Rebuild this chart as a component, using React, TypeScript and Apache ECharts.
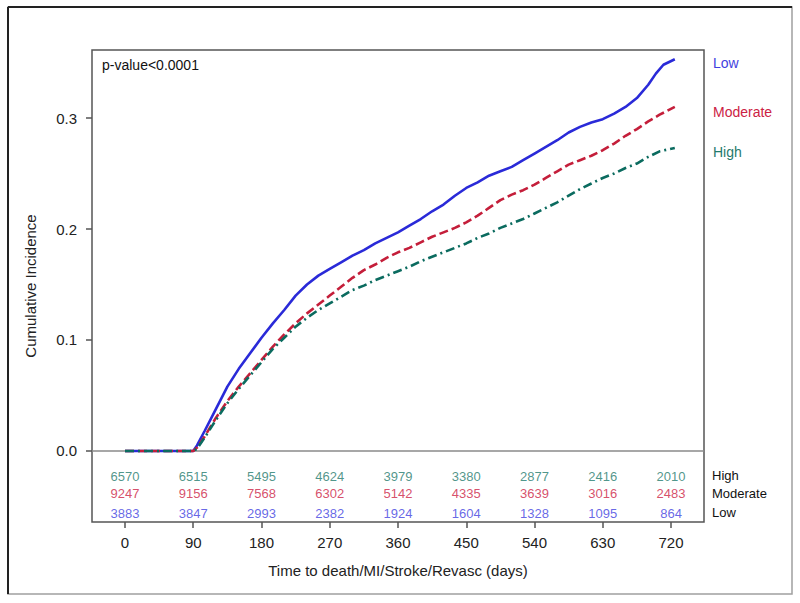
import React, { useEffect, useRef } from "react";
import * as echarts from "echarts";

const xTicks = [0, 90, 180, 270, 360, 450, 540, 630, 720];
const yTicks = [0, 0.1, 0.2, 0.3];

const atRiskHigh = [6570, 6515, 5495, 4624, 3979, 3380, 2877, 2416, 2010];
const atRiskModerate = [9247, 9156, 7568, 6302, 5142, 4335, 3639, 3016, 2483];
const atRiskLow = [3883, 3847, 2993, 2382, 1924, 1604, 1328, 1095, 864];

const lowCurve: [number, number][] = [
  [0, 0], [90, 0], [95, 0.005], [105, 0.018], [120, 0.038], [135, 0.058], [150, 0.074],
  [165, 0.088], [180, 0.102], [195, 0.115], [210, 0.127], [225, 0.14], [240, 0.15],
  [255, 0.158], [270, 0.164], [285, 0.17], [300, 0.176], [315, 0.181], [330, 0.187],
  [345, 0.192], [360, 0.197], [375, 0.203], [390, 0.209], [405, 0.216], [420, 0.222],
  [435, 0.23], [450, 0.237], [465, 0.242], [480, 0.248], [495, 0.252], [510, 0.256],
  [525, 0.262], [540, 0.268], [555, 0.274], [570, 0.28], [585, 0.287], [600, 0.292],
  [615, 0.296], [630, 0.299], [645, 0.304], [660, 0.31], [675, 0.318], [690, 0.33],
  [700, 0.34], [710, 0.348], [725, 0.353],
];

const moderateCurve: [number, number][] = [
  [0, 0], [90, 0], [95, 0.003], [105, 0.013], [120, 0.03], [135, 0.045], [150, 0.058],
  [165, 0.07], [180, 0.082], [195, 0.094], [210, 0.105], [225, 0.115], [240, 0.124],
  [255, 0.132], [270, 0.14], [285, 0.148], [300, 0.156], [315, 0.163], [330, 0.168],
  [345, 0.174], [360, 0.179], [375, 0.183], [390, 0.188], [405, 0.193], [420, 0.197],
  [435, 0.201], [450, 0.206], [465, 0.212], [480, 0.219], [495, 0.226], [510, 0.231],
  [525, 0.235], [540, 0.24], [555, 0.246], [570, 0.252], [585, 0.258], [600, 0.262],
  [615, 0.266], [630, 0.271], [645, 0.277], [660, 0.284], [675, 0.29], [690, 0.297],
  [705, 0.303], [725, 0.31],
];

const highCurve: [number, number][] = [
  [0, 0], [90, 0], [95, 0.002], [105, 0.012], [120, 0.028], [135, 0.043], [150, 0.056],
  [165, 0.068], [180, 0.08], [195, 0.092], [210, 0.102], [225, 0.112], [240, 0.12],
  [255, 0.127], [270, 0.133], [285, 0.139], [300, 0.145], [315, 0.149], [330, 0.154],
  [345, 0.158], [360, 0.162], [375, 0.166], [390, 0.171], [405, 0.175], [420, 0.179],
  [435, 0.183], [450, 0.187], [465, 0.192], [480, 0.196], [495, 0.201], [510, 0.205],
  [525, 0.209], [540, 0.214], [555, 0.219], [570, 0.224], [585, 0.23], [600, 0.236],
  [615, 0.241], [630, 0.246], [645, 0.25], [660, 0.255], [675, 0.259], [690, 0.265],
  [705, 0.27], [725, 0.273],
];

const FONT = "'Liberation Sans', Arial, sans-serif";
const C_LOW = "#2a2ad8";
const C_MOD = "#c41e3a";
const C_HIGH = "#0b6b5f";
const T_LOW = "#3f3fe0";
const T_MOD = "#cc2244";
const T_HIGH = "#1f7a6c";

// vertical placement (axis units) of the at-risk table rows
const ROW_HIGH = -0.0234;
const ROW_MOD = -0.0387;
const ROW_LOW = -0.0562;

function riskSeries(name: string, counts: number[], row: number, color: string) {
  return {
    name,
    type: "scatter",
    symbolSize: 0,
    silent: true,
    data: xTicks.map((d, i) => [d, row, counts[i]]),
    label: {
      show: true,
      position: "inside",
      formatter: (p: any) => String(p.value[2]),
      color,
      fontSize: 13,
      fontFamily: FONT,
    },
    z: 5,
  };
}

export default function App() {
  const ref = useRef<HTMLDivElement>(null);
  useEffect(() => {
    if (!ref.current) return;
    const chart = echarts.init(ref.current, undefined, { renderer: "svg" });
    const lineBase = (name: string, data: [number, number][], color: string, type: any, z: number) => ({
      name,
      type: "line",
      data,
      showSymbol: false,
      symbol: "none",
      lineStyle: { color, width: 2.6, type },
      itemStyle: { color },
      z,
    });
    chart.setOption({
      animation: false,
      backgroundColor: "#ffffff",
      textStyle: { fontFamily: FONT },
      grid: {
        left: 92,
        right: 96,
        top: 50,
        bottom: 81,
        show: true,
        borderColor: "#555555",
        borderWidth: 1.5,
        backgroundColor: "transparent",
      },
      xAxis: {
        type: "value",
        min: -43.5,
        max: 763.5,
        name: "Time to death/MI/Stroke/Revasc (days)",
        nameLocation: "middle",
        nameGap: 41,
        nameTextStyle: { fontSize: 15, color: "#222", fontFamily: FONT },
        axisLine: { show: false, onZero: false },
        splitLine: { show: false },
        axisTick: {
          show: true,
          inside: false,
          length: 6,
          lineStyle: { color: "#555", width: 1.5 },
          customValues: xTicks,
        },
        axisLabel: {
          customValues: xTicks,
          fontSize: 15,
          color: "#222",
          margin: 13,
          fontFamily: FONT,
        },
      },
      yAxis: {
        type: "value",
        min: -0.064,
        max: 0.3613,
        name: "Cumulative Incidence",
        nameLocation: "middle",
        nameGap: 54,
        nameTextStyle: { fontSize: 15, color: "#222", fontFamily: FONT },
        axisLine: { show: false, onZero: false },
        splitLine: { show: false },
        axisTick: {
          show: true,
          inside: false,
          length: 6,
          lineStyle: { color: "#555", width: 1.5 },
          customValues: yTicks,
        },
        axisLabel: {
          customValues: yTicks,
          formatter: (v: number) => v.toFixed(1),
          fontSize: 15,
          color: "#222",
          margin: 15,
          fontFamily: FONT,
        },
      },
      series: [
        {
          ...lineBase("Low", lowCurve, C_LOW, "solid", 3),
          markLine: {
            silent: true,
            symbol: "none",
            label: { show: false },
            lineStyle: { color: "#8a8a8a", width: 1.5, type: "solid" },
            data: [{ yAxis: 0 }],
            z: 1,
          },
        },
        lineBase("Moderate", moderateCurve, C_MOD, [9, 4], 3),
        lineBase("High", highCurve, C_HIGH, [9, 4, 2, 4], 4),
        riskSeries("riskHigh", atRiskHigh, ROW_HIGH, T_HIGH),
        riskSeries("riskModerate", atRiskModerate, ROW_MOD, T_MOD),
        riskSeries("riskLow", atRiskLow, ROW_LOW, T_LOW),
      ],
      graphic: [
        {
          type: "rect",
          shape: { x: 8, y: 7, width: 784, height: 587 },
          style: { fill: "none", stroke: "#a0a0a0", lineWidth: 1.5 },
          silent: true,
        },
        {
          type: "line",
          shape: { x1: 8, y1: 7, x2: 792, y2: 7 },
          style: { stroke: "#222", lineWidth: 2 },
          silent: true,
        },
        {
          type: "line",
          shape: { x1: 8, y1: 7, x2: 8, y2: 594 },
          style: { stroke: "#222", lineWidth: 2 },
          silent: true,
        },
        {
          type: "text",
          x: 102,
          y: 65,
          style: { text: "p-value<0.0001", fill: "#111", font: `14px ${FONT}`, verticalAlign: "middle" },
        },
        {
          type: "text",
          x: 713,
          y: 63,
          style: { text: "Low", fill: T_LOW, font: `14px ${FONT}`, verticalAlign: "middle" },
        },
        {
          type: "text",
          x: 713,
          y: 112,
          style: { text: "Moderate", fill: T_MOD, font: `14px ${FONT}`, verticalAlign: "middle" },
        },
        {
          type: "text",
          x: 713,
          y: 152,
          style: { text: "High", fill: T_HIGH, font: `14px ${FONT}`, verticalAlign: "middle" },
        },
        {
          type: "text",
          x: 712,
          y: 475,
          style: { text: "High", fill: "#111", font: `13px ${FONT}`, verticalAlign: "middle" },
        },
        {
          type: "text",
          x: 712,
          y: 493,
          style: { text: "Moderate", fill: "#111", font: `13px ${FONT}`, verticalAlign: "middle" },
        },
        {
          type: "text",
          x: 712,
          y: 512,
          style: { text: "Low", fill: "#111", font: `13px ${FONT}`, verticalAlign: "middle" },
        },
      ],
    });
    return () => chart.dispose();
  }, []);
  return (
    <div
      ref={ref}
      style={{ position: "fixed", left: 0, top: 0, width: 800, height: 603 }}
    />
  );
}
